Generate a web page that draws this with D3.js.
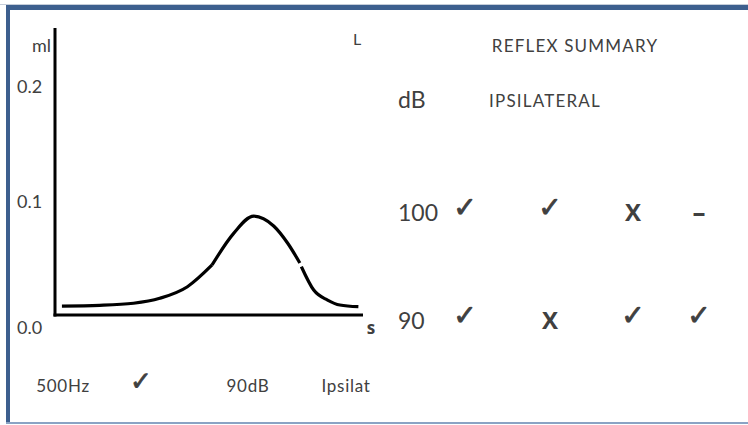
<!DOCTYPE html>
<html><head><meta charset="utf-8">
<script src="https://cdn.jsdelivr.net/npm/d3@7"></script>
<style>html,body{margin:0;padding:0;background:#fff;} svg{display:block;}</style>
</head><body>
<svg id="c" width="748" height="425"></svg>
<script>
// ---- data ----
const yTicks = [0.0, 0.1, 0.2];
const yTickLabels = ["0.0", "0.1", "0.2"];
// tympanometry reflex trace, in seconds / ml (three drawn segments)
const segA_t = [0.045, 0.29, 0.51, 0.68, 0.86, 1.02];
const segA_v = [0.0078, 0.0084, 0.0102, 0.0145, 0.0246, 0.0435];
const segB_t = [1.02, 1.16, 1.29, 1.42, 1.51, 1.59];
const segB_v = [0.0435, 0.071, 0.086, 0.0774, 0.0626, 0.0452];
const segC_t = [1.60, 1.68, 1.77, 1.85, 1.97];
const segC_v = [0.0420, 0.0217, 0.013, 0.0087, 0.0072];
const bottomLabels = ["500Hz", "\u2713", "90dB", "Ipsilat"];
const summaryLevels = ["100", "90"];
const summaryCols = ["c1", "c2", "c3", "c4"];
const summary100 = ["\u2713", "\u2713", "X", "\u2013"];
const summary90 = ["\u2713", "X", "\u2713", "\u2713"];

const svg = d3.select("#c");
const txt = "#404040";
const font = "Lato, 'Open Sans', sans-serif";
const boldFont = "'Open Sans', 'Liberation Sans', sans-serif";
const sym = "'DejaVu Sans', sans-serif";
const CHECK = "\u2713";

// frame
svg.append("rect").attr("x",0).attr("y",4).attr("width",748).attr("height",1).attr("fill","#c5cdd9");
svg.append("rect").attr("x",6).attr("y",5).attr("width",742).attr("height",5).attr("fill","#3d5f8e");
svg.append("rect").attr("x",6).attr("y",5).attr("width",4).attr("height",418).attr("fill","#3d5f8e");
svg.append("rect").attr("x",6).attr("y",422).attr("width",742).attr("height",2).attr("fill","#8aa3c4");

// scales
const x = d3.scaleLinear().domain([0, 2]).range([55, 363]);
const y = d3.scaleLinear().domain([0, 0.2]).range([315, 85]);

// axes lines
svg.append("line").attr("x1", x(0)).attr("x2", x(0)).attr("y1", 28).attr("y2", y(0)+1.5)
  .attr("stroke","#000").attr("stroke-width",3);
svg.append("line").attr("x1", x(0)-1.5).attr("x2", x(2)).attr("y1", y(0)).attr("y2", y(0))
  .attr("stroke","#000").attr("stroke-width",3);

// y tick labels
svg.selectAll("text.yt").data(yTicks).enter().append("text")
  .attr("x", 17).attr("y", (d,i) => y(d) + (d === 0 ? 13 : 2))
  .attr("dy","0.35em").attr("font-family",font).attr("font-size",18).attr("fill",txt)
  .text((d,i) => yTickLabels[i]);
svg.append("text").attr("x",51).attr("y",46).attr("dy","0.35em").attr("text-anchor","end")
  .attr("font-family",font).attr("font-size",18).attr("fill",txt).text("ml");
svg.append("text").attr("x",371).attr("y",328).attr("dy","0.35em").attr("text-anchor","middle")
  .attr("font-family",boldFont).attr("font-size",17).attr("font-weight","bold").attr("fill",txt).text("s");
svg.append("text").attr("x",357).attr("y",39).attr("dy","0.35em").attr("text-anchor","middle")
  .attr("font-family",font).attr("font-size",16).attr("fill",txt).text("L");

// curve
const line = d3.line().x(d => x(d[0])).y(d => y(d[1])).curve(d3.curveMonotoneX);
[[segA_t, segA_v],[segB_t, segB_v],[segC_t, segC_v]].forEach(([t,v]) => {
  svg.append("path").datum(t.map((tt,i) => [tt, v[i]]))
    .attr("d", line).attr("fill","none").attr("stroke","#000").attr("stroke-width",3.2);
});

// bottom labels
const bx = d3.scaleOrdinal().domain(bottomLabels).range([63, 141, 248, 346]);
svg.selectAll("text.bl").data(bottomLabels).enter().append("text")
  .attr("x", d => bx(d)).attr("y", d => d === CHECK ? 381 : 386).attr("dy","0.35em").attr("text-anchor","middle")
  .attr("font-family", d => d === CHECK ? sym : font)
  .attr("font-size", d => d === CHECK ? 26 : 17)
  .attr("letter-spacing", d => d === CHECK ? 0 : 0.7)
  .attr("stroke", d => d === CHECK ? txt : "none").attr("stroke-width", 0.8)
  .attr("fill",txt).text(d => d);

// summary
svg.append("text").attr("x",575).attr("y",46).attr("dy","0.35em").attr("text-anchor","middle")
  .attr("font-family",font).attr("font-size",17).attr("letter-spacing",1.2).attr("fill",txt).text("REFLEX SUMMARY");
svg.append("text").attr("x",398).attr("y",100).attr("dy","0.35em")
  .attr("font-family",font).attr("font-size",23).attr("fill",txt).text("dB");
svg.append("text").attr("x",545).attr("y",101).attr("dy","0.35em").attr("text-anchor","middle")
  .attr("font-family",font).attr("font-size",17).attr("letter-spacing",1.2).attr("fill",txt).text("IPSILATERAL");

const ry = d3.scaleOrdinal().domain(summaryLevels).range([212, 320]);
const cx = d3.scaleOrdinal().domain(summaryCols).range([465, 550, 633, 699]);
summaryLevels.forEach((lvl, r) => {
  svg.append("text").attr("x",398).attr("y",ry(lvl)+1).attr("dy","0.35em")
    .attr("font-family",font).attr("font-size",23).attr("fill",txt).text(lvl);
  const vals = r === 0 ? summary100 : summary90;
  svg.selectAll(null).data(vals).enter().append("text")
    .attr("x",(d,i) => cx(summaryCols[i])).attr("y", d => ry(lvl) + (d === CHECK ? -5 : 1)).attr("dy","0.35em")
    .attr("text-anchor","middle")
    .attr("font-family", d => d === CHECK ? sym : boldFont)
    .attr("font-size", d => d === CHECK ? 28 : (d === "X" ? 24 : 26))
    .attr("stroke", d => d === CHECK ? txt : "none").attr("stroke-width", 0.9)
    .attr("font-weight", d => d === CHECK ? "normal" : "bold").attr("fill",txt).text(d => d);
});
</script>
</body></html>
